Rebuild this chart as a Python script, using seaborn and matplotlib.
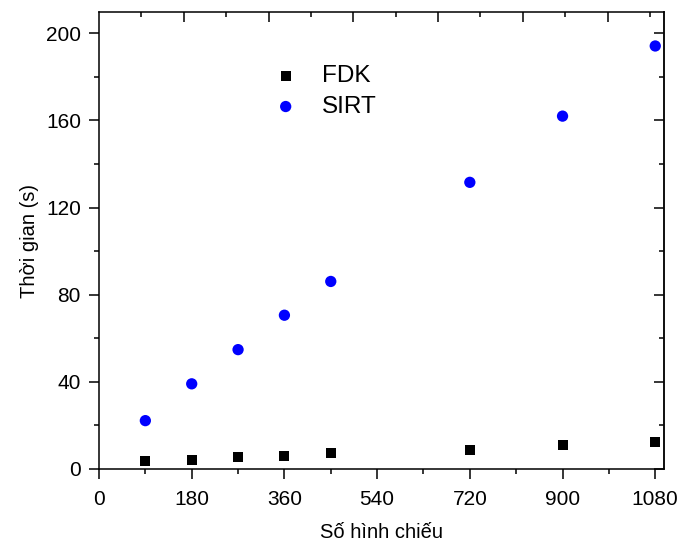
import numpy as np
import pandas as pd
import matplotlib
matplotlib.use("Agg")
import matplotlib.pyplot as plt
import seaborn as sns
from matplotlib.ticker import MultipleLocator, NullFormatter

projections = [90, 180, 270, 360, 450, 720, 900, 1080]
fdk_time = [3.7, 4.1, 5.3, 6.0, 7.2, 8.9, 10.9, 12.2]
sirt_time = [22.2, 39.1, 54.8, 70.6, 86.1, 131.6, 162.0, 194.2]
x_ticks = [0, 180, 360, 540, 720, 900, 1080]
y_ticks = [0, 40, 80, 120, 160, 200]

df_fdk = pd.DataFrame({"x": projections, "y": fdk_time, "method": "FDK"})
df_sirt = pd.DataFrame({"x": projections, "y": sirt_time, "method": "SIRT"})

sns.set_style("ticks")
plt.rcParams['font.family'] = ['Liberation Sans', 'DejaVu Sans']
plt.rcParams['text.color'] = 'black'
plt.rcParams['axes.labelcolor'] = 'black'
plt.rcParams['xtick.color'] = 'black'
plt.rcParams['ytick.color'] = 'black'

fig = plt.figure(figsize=(6.79, 5.42), dpi=100)
ax = fig.add_axes([99/679, 1 - 469/542, (664-99)/679, (469-12)/542])

sns.scatterplot(data=df_fdk, x="x", y="y", marker="s", color="black",
                s=52, edgecolor="none", label="FDK", ax=ax)
sns.scatterplot(data=df_sirt, x="x", y="y", marker="o", color="#0000ff",
                s=66, edgecolor="none", label="SIRT", ax=ax)

ax.set_xlim(0, 1097)
ax.set_ylim(0, 209.8)
ax.set_xticks(x_ticks)
ax.set_yticks(y_ticks)
ax.xaxis.set_minor_locator(MultipleLocator(90))
ax.yaxis.set_minor_locator(MultipleLocator(20))
ax.tick_params(axis='both', which='major', direction='out', length=7, width=1.1,
               labelsize=15, color='black', labelcolor='black')
ax.tick_params(axis='both', which='minor', direction='out', length=3.5, width=1.1)
ax.tick_params(axis='x', which='major', pad=8)
ax.tick_params(axis='y', which='major', pad=6)
for sp in ax.spines.values():
    sp.set_linewidth(1.1)
    sp.set_color('black')

ax.set_xlabel("Số hình chiếu", fontsize=14.5, labelpad=10, color='black')
ax.set_ylabel("Thời gian (s)", fontsize=14.5, labelpad=5, color='black')

# mirrored right axis, ticks inward
right = ax.secondary_yaxis('right')
right.set_yticks(y_ticks)
right.yaxis.set_minor_locator(MultipleLocator(20))
right.yaxis.set_major_formatter(NullFormatter())
right.tick_params(which='major', direction='in', length=7, width=1.1)
right.tick_params(which='minor', direction='in', length=3.5, width=1.1)
right.spines['right'].set_linewidth(1.1)

# top axis ticks, inward
top = ax.twiny()
top.set_xlim(0, 13.33)
top.set_xticks([2, 4, 6, 8, 10, 12])
top.set_xticks([1, 3, 5, 7, 9, 11, 13], minor=True)
top.xaxis.set_major_formatter(NullFormatter())
top.tick_params(which='major', direction='in', length=7, width=1.1)
top.tick_params(which='minor', direction='in', length=3.5, width=1.1)
for sp in top.spines.values():
    sp.set_visible(False)
top.grid(False)

leg = ax.legend(loc='center left', bbox_to_anchor=(0.2874, 0.826), frameon=False,
                fontsize=17.5, handletextpad=0.48, labelspacing=0.36,
                markerscale=1.0, borderpad=0, borderaxespad=0)
for t in leg.get_texts():
    t.set_color('black')

fig.savefig("out.png", dpi=100)
